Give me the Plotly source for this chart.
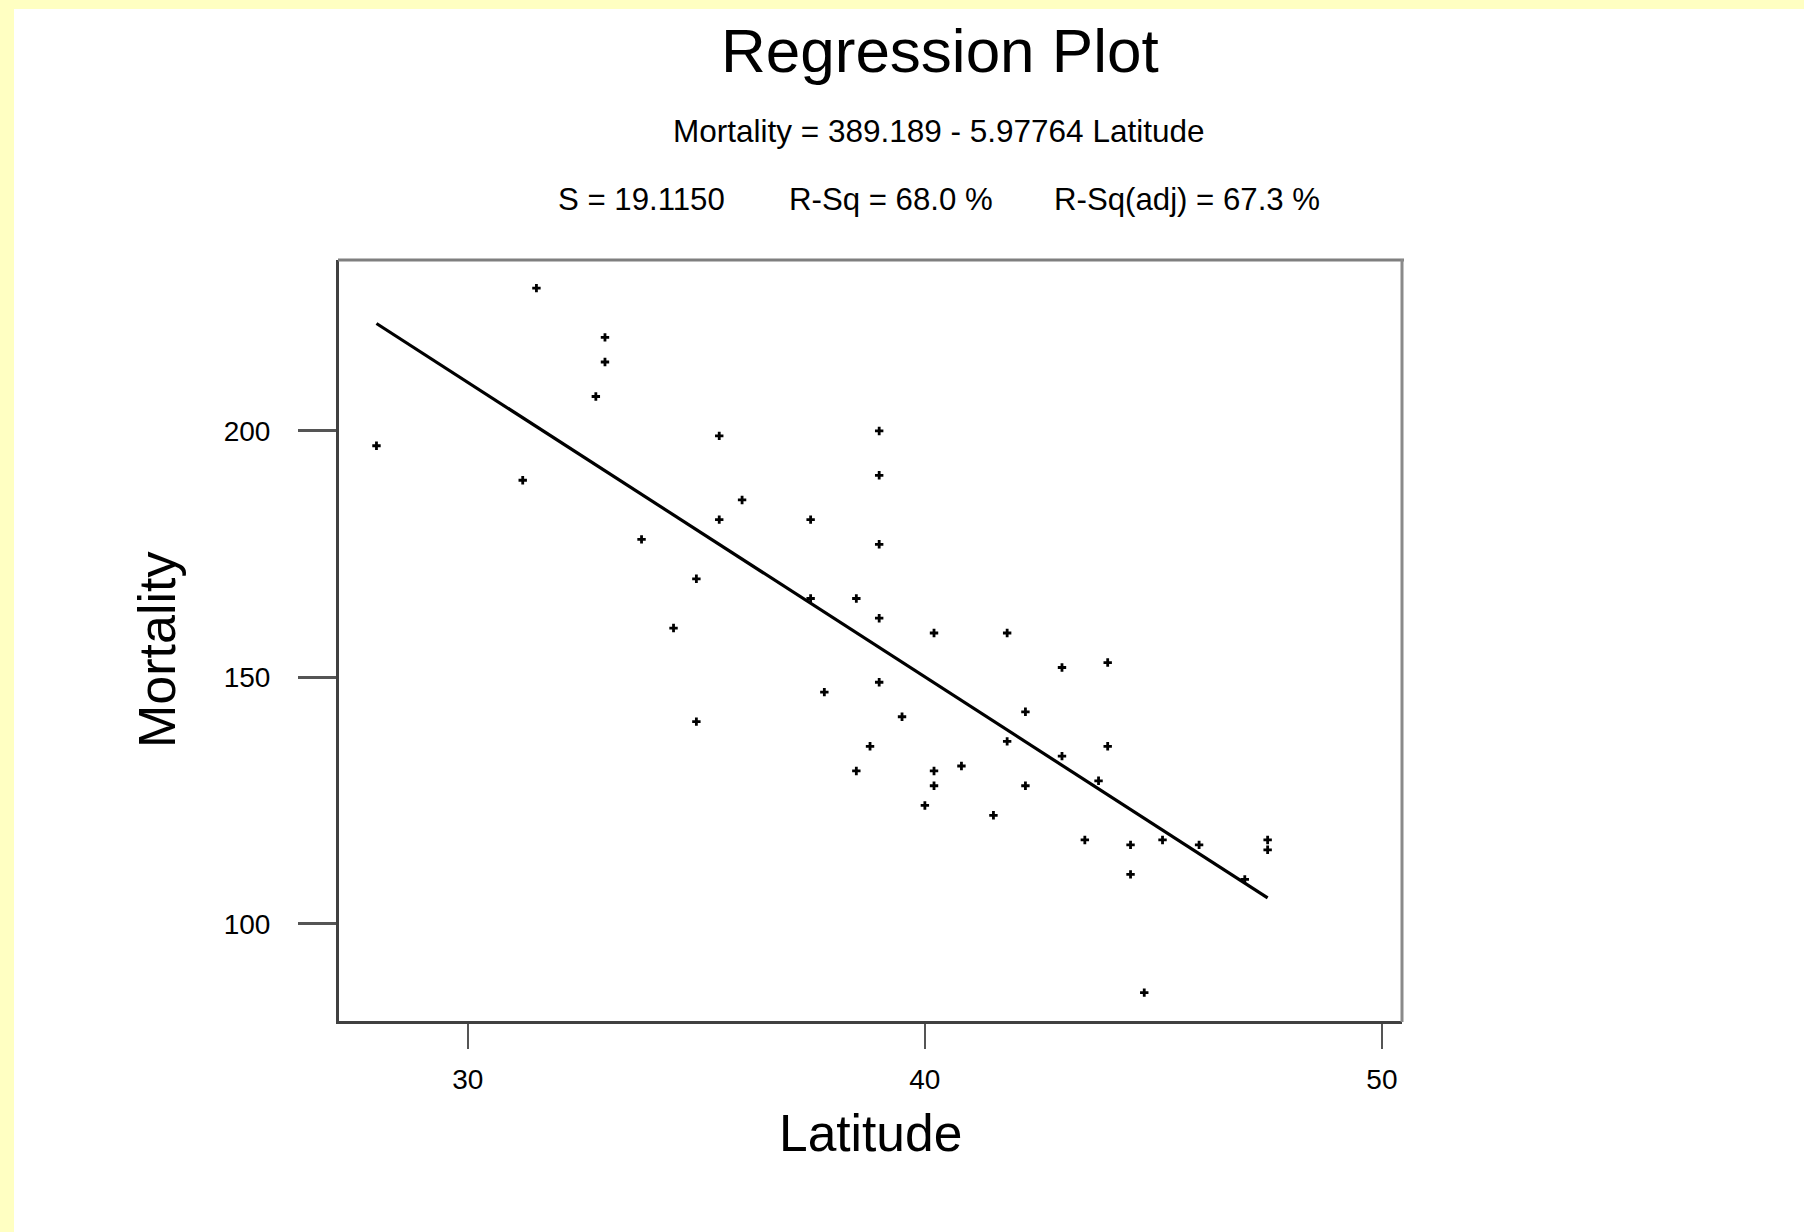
import plotly.graph_objects as go

# ---- data (skin cancer mortality vs latitude, 49 states) ----
latitude = [33.0, 34.5, 35.0, 37.5, 39.0, 41.8, 39.0, 39.0, 28.0, 33.0,
            44.5, 40.0, 40.2, 42.2, 38.5, 37.8, 31.2, 45.2, 39.0, 42.2,
            43.5, 46.0, 32.8, 38.5, 47.0, 41.5, 39.0, 43.8, 40.2, 35.0,
            43.0, 35.5, 47.5, 40.2, 35.5, 44.0, 40.8, 41.8, 33.8, 44.8,
            36.0, 31.5, 39.5, 44.0, 37.5, 47.5, 38.8, 44.5, 43.0]
mortality = [219, 160, 170, 182, 149, 159, 200, 177, 197, 214,
             116, 124, 128, 128, 166, 147, 190, 117, 162, 143,
             117, 116, 207, 131, 109, 122, 191, 129, 159, 141,
             152, 199, 115, 131, 182, 136, 132, 137, 178, 86,
             186, 229, 142, 153, 166, 117, 136, 110, 134]

intercept = 389.189
slope = -5.97764
fit_x = [28.0, 47.5]
fit_y = [intercept + slope * v for v in fit_x]

x_ticks = [30, 40, 50]
y_ticks = [100, 150, 200]

title_text = "Regression Plot"
eq_text = "Mortality = 389.189 - 5.97764 Latitude"
stats_texts = ["S = 19.1150", "R-Sq = 68.0 %", "R-Sq(adj) = 67.3 %"]
x_title = "Latitude"
y_title = "Mortality"

# ---- layout geometry ----
W, H = 1804, 1232
L, R, T, B = 339, 1402, 260, 1021
pw, ph = R - L, B - T

def px(xp):
    return (xp - L) / pw

def py(yp):
    return (B - yp) / ph

FONT = "Liberation Sans, Arial, sans-serif"

fig = go.Figure()
fig.add_trace(go.Scatter(x=fit_x, y=fit_y, mode="lines",
                         line=dict(color="black", width=3.2),
                         showlegend=False, hoverinfo="skip"))
fig.add_trace(go.Scatter(x=latitude, y=mortality, mode="markers",
                         marker=dict(symbol="cross", size=7, color="black",
                                     line=dict(width=0)),
                         showlegend=False))

shapes = [
    # yellow page border strips
    dict(type="rect", xref="paper", yref="paper", layer="below",
         x0=px(0), x1=px(W), y0=py(9), y1=py(0),
         fillcolor="#FFFFC2", line=dict(width=0)),
    dict(type="rect", xref="paper", yref="paper", layer="below",
         x0=px(0), x1=px(14), y0=py(H), y1=py(0),
         fillcolor="#FFFFC2", line=dict(width=0)),
    # top and right frame lines (lighter grey)
    dict(type="line", xref="paper", yref="paper", x0=px(338), x1=px(1404),
         y0=py(260), y1=py(260), line=dict(color="#7f7f7f", width=3)),
    dict(type="line", xref="paper", yref="paper", x0=px(1402), x1=px(1402),
         y0=py(259), y1=py(1022), line=dict(color="#8a8a8a", width=3)),
]

annotations = [
    dict(text=title_text, x=px(940), y=py(50), xref="paper", yref="paper",
         showarrow=False, xanchor="center", yanchor="middle",
         font=dict(size=62, color="black", family=FONT)),
    dict(text=eq_text, x=px(939), y=py(131), xref="paper", yref="paper",
         showarrow=False, xanchor="center", yanchor="middle",
         font=dict(size=31.5, color="black", family=FONT)),
]
for txt, left in zip(stats_texts, [556, 787, 1052]):
    annotations.append(dict(text=txt, x=px(left), y=py(199), xref="paper",
                            yref="paper", showarrow=False, xanchor="left",
                            yanchor="middle",
                            font=dict(size=31.2, color="black", family=FONT)))
annotations.append(dict(text=x_title, x=px(870), y=py(1133), xref="paper",
                        yref="paper", showarrow=False, xanchor="center",
                        yanchor="middle",
                        font=dict(size=51.5, color="black", family=FONT)))
annotations.append(dict(text=y_title, x=px(157), y=py(650), xref="paper",
                        yref="paper", showarrow=False, xanchor="center",
                        yanchor="middle", textangle=-90,
                        font=dict(size=52, color="black", family=FONT)))

fig.update_layout(
    width=W, height=H,
    margin=dict(l=L, r=W - R, t=T, b=H - B, pad=0),
    paper_bgcolor="white", plot_bgcolor="white",
    font=dict(family=FONT, color="black"),
    shapes=shapes, annotations=annotations,
    showlegend=False,
)
fig.update_xaxes(range=[27.18, 50.44], tickvals=x_ticks,
                 ticktext=[str(v) for v in x_ticks],
                 showgrid=False, zeroline=False,
                 showline=True, linecolor="#404040", linewidth=3, mirror=False,
                 ticks="outside", ticklen=25, tickwidth=2, tickcolor="#555555",
                 ticklabelstandoff=6,
                 tickfont=dict(size=28, color="black", family=FONT))
fig.update_yaxes(range=[80.25, 234.7], tickvals=y_ticks,
                 ticktext=[str(v) for v in y_ticks],
                 showgrid=False, zeroline=False,
                 showline=True, linecolor="#404040", linewidth=3, mirror=False,
                 ticks="outside", ticklen=38, tickwidth=3, tickcolor="#555555",
                 ticklabelstandoff=22,
                 tickfont=dict(size=28, color="black", family=FONT))

fig.write_html("out.html",
               config={"displayModeBar": False},
               post_script="document.body.style.margin='0px';"
                           "document.body.style.overflow='hidden';")
